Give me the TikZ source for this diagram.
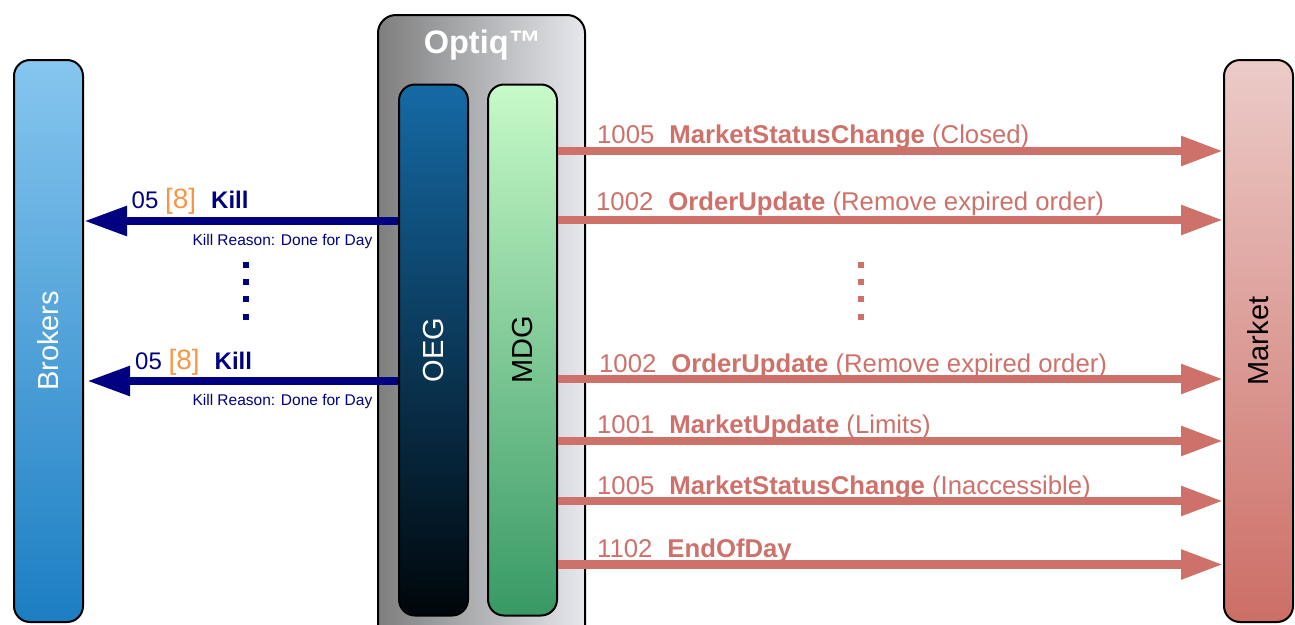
\documentclass[tikz,border=0pt]{standalone}
\usepackage{fontspec}
\setmainfont{Liberation Sans}
\usetikzlibrary{arrows.meta}
\definecolor{redarr}{RGB}{205,113,106}
\definecolor{navyarr}{RGB}{0,0,128}
\definecolor{orng}{RGB}{247,150,70}
\definecolor{brokTop}{RGB}{134,198,239}
\definecolor{brokBot}{RGB}{28,126,195}
\definecolor{mktTop}{RGB}{236,203,200}
\definecolor{mktBot}{RGB}{204,110,102}
\definecolor{oegTop}{RGB}{21,106,165}
\definecolor{oegBot}{RGB}{0,6,10}
\definecolor{mdgTop}{RGB}{199,250,201}
\definecolor{mdgBot}{RGB}{56,153,100}
\definecolor{optLeft}{RGB}{126,126,126}
\definecolor{optRight}{RGB}{229,232,237}
\begin{document}
\begin{tikzpicture}[x=1pt,y=-1pt,
  box/.style={draw=black, line width=2pt, rounded corners=16pt, inner sep=0pt},
  redmsg/.style={draw=redarr, line width=8.5pt, -{Triangle[length=42pt,width=28pt]}},
  bluemsg/.style={draw=navyarr, line width=8.5pt, -{Triangle[length=43pt,width=28pt]}},
  redlbl/.style={anchor=base west, inner sep=0pt, text=redarr, font=\fontsize{25.7}{30}\selectfont},
  bluelbl/.style={anchor=base west, inner sep=0pt, text=navyarr, font=\fontsize{24}{28}\selectfont},
  reason/.style={anchor=base east, inner sep=0pt, text=navyarr, font=\fontsize{15.5}{18}\selectfont},
  vlabel/.style={rotate=90, inner sep=0pt, font=\fontsize{29}{34}\selectfont}
]
\useasboundingbox (0,0) rectangle (1295,624);

% boxes
\node[box, top color=brokTop, bottom color=brokBot, minimum width=69pt, minimum height=562pt] (brokers) at (48.5,341) {};
\node[box, top color=mktTop, bottom color=mktBot, minimum width=69pt, minimum height=562pt] (market) at (1258.5,341) {};
\node[box, rounded corners=18pt, left color=optLeft, right color=optRight, minimum width=207pt, minimum height=640pt] (optiq) at (481.5,335) {};
\node[box, top color=oegTop, bottom color=oegBot, minimum width=69pt, minimum height=531pt] (oeg) at (433.5,350) {};
\node[box, top color=mdgTop, bottom color=mdgBot, minimum width=69pt, minimum height=531pt] (mdg) at (522.5,350) {};

% box labels
\node[anchor=base, inner sep=0pt, text=white, font=\bfseries\fontsize{32.5}{38}\selectfont] (optiqlbl) at (482.5,53) {Optiq™};
\node[vlabel, text=white] (brokerslbl) at (brokers.center) {Brokers};
\node[vlabel, text=black] (marketlbl) at (market.center) {Market};
\node[vlabel, text=white] (oeglbl) at (oeg.center) {OEG};
\node[vlabel, text=black] (mdglbl) at (mdg.center) {MDG};

% red messages
\draw[redmsg] (mdg.east |- 0,151) -- (market.west |- 0,151);
\node[redlbl] (r1) at (597,143) {1005\hspace{15pt}\textbf{MarketStatusChange} (Closed)};
\draw[redmsg] (mdg.east |- 0,220) -- (market.west |- 0,220);
\node[redlbl] (r2) at (596,210) {1002\hspace{15pt}\textbf{OrderUpdate} (Remove expired order)};
\draw[redmsg] (mdg.east |- 0,379) -- (market.west |- 0,379);
\node[redlbl] (r3) at (599,372) {1002\hspace{15pt}\textbf{OrderUpdate} (Remove expired order)};
\draw[redmsg] (mdg.east |- 0,441) -- (market.west |- 0,441);
\node[redlbl] (r4) at (597,433) {1001\hspace{15pt}\textbf{MarketUpdate} (Limits)};
\draw[redmsg] (mdg.east |- 0,501) -- (market.west |- 0,501);
\node[redlbl] (r5) at (597,494) {1005\hspace{15pt}\textbf{MarketStatusChange} (Inaccessible)};
\draw[redmsg] (mdg.east |- 0,564.5) -- (market.west |- 0,564.5);
\node[redlbl] (r6) at (597,557) {1102\hspace{15pt}\textbf{EndOfDay}};

% blue messages
\draw[bluemsg] (oeg.west |- 0,221) -- (brokers.east |- 0,221);
\node[bluelbl] (b1) at (131.5,208) {05 {\color{orng}\fontsize{28}{32}\selectfont[8]}\hspace{15pt}\textbf{Kill}};
\node[reason] (b1r) at (372.5,245) {Kill Reason: Done for Day};
\draw[bluemsg, shorten >=3pt] (oeg.west |- 0,381) -- (brokers.east |- 0,381);
\node[bluelbl] (b2) at (135,369) {05 {\color{orng}\fontsize{28}{32}\selectfont[8]}\hspace{15pt}\textbf{Kill}};
\node[reason] (b2r) at (372.5,405) {Kill Reason: Done for Day};

% ellipsis dots
\foreach \yy in {265,282,299,317} {
  \fill[navyarr] (243,\yy-3) rectangle +(6,6);
  \fill[redarr] (858,\yy-3) rectangle +(6,6);
}
\end{tikzpicture}
\end{document}
